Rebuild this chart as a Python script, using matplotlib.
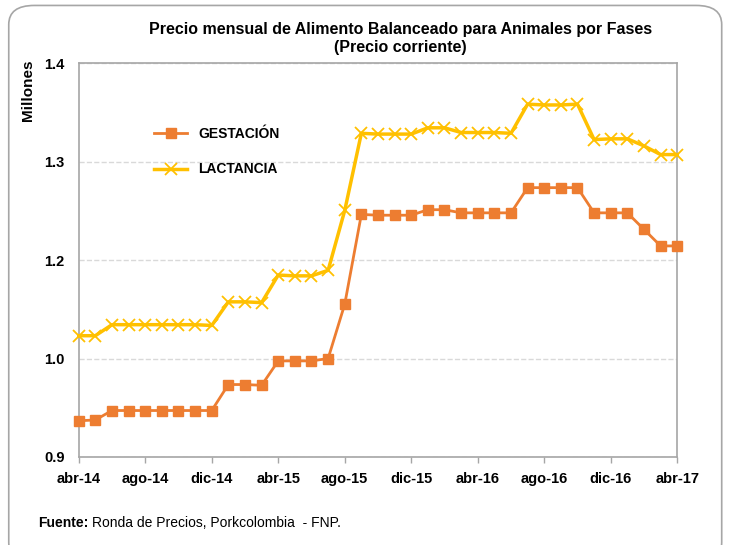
import matplotlib
matplotlib.use("Agg")
import matplotlib.pyplot as plt
from matplotlib.patches import FancyBboxPatch

plt.rcParams['font.family'] = ['Liberation Sans', 'DejaVu Sans']

# monthly prices, abr-14 .. abr-17 (millones de pesos)
gestacion = [0.946, 0.947, 0.959, 0.959, 0.959, 0.959, 0.959, 0.959, 0.959,
             0.992, 0.992, 0.991, 1.022, 1.022, 1.022, 1.025, 1.094,
             1.208, 1.207, 1.207, 1.207, 1.214, 1.214, 1.210, 1.210, 1.210, 1.210,
             1.242, 1.242, 1.242, 1.242, 1.210, 1.210, 1.210, 1.189, 1.168, 1.168]
lactancia = [1.054, 1.054, 1.068, 1.068, 1.068, 1.068, 1.068, 1.068, 1.067,
             1.097, 1.097, 1.096, 1.131, 1.130, 1.130, 1.137, 1.213,
             1.311, 1.310, 1.310, 1.310, 1.318, 1.318, 1.312, 1.312, 1.312, 1.311,
             1.348, 1.347, 1.347, 1.348, 1.303, 1.304, 1.304, 1.295, 1.284, 1.284]
tick_labels = ['abr-14', 'ago-14', 'dic-14', 'abr-15', 'ago-15',
               'dic-15', 'abr-16', 'ago-16', 'dic-16', 'abr-17']
y_ticks = [0.9, 1.025, 1.15, 1.275, 1.4]
y_labels = ['0.9', '1.0', '1.2', '1.3', '1.4']

months = list(range(len(gestacion)))

fig = plt.figure(figsize=(7.29, 5.45), dpi=100)
frame = FancyBboxPatch((0.012, -0.03), 0.978, 1.02, boxstyle="round,pad=0,rounding_size=0.035",
                       transform=fig.transFigure, fc='none', ec='#a6a6a6', lw=1.2, zorder=-1)
fig.patches.append(frame)
ax = fig.add_axes([0.108, 0.1615, 0.821, 0.7225])

ax.plot(months, gestacion, color='#ED7D31', lw=2, marker='s', ms=7, label='GESTACIÓN', clip_on=False, zorder=3)
ax.plot(months, lactancia, color='#FFC000', lw=2.5, marker='x', ms=8, mew=1.3, label='LACTANCIA', clip_on=False, zorder=3)

ax.set_xlim(0, 36)
ax.set_ylim(0.9, 1.4)
ax.set_xticks(range(0, 37, 4))
ax.set_xticklabels(tick_labels, fontweight='bold', fontsize=10.5)
ax.set_yticks(y_ticks)
ax.set_yticklabels(y_labels, fontweight='bold', fontsize=10.5)
ax.tick_params(axis='both', color='#a6a6a6', length=4, width=1)
ax.tick_params(axis='y', length=0, pad=10)
ax.tick_params(axis='x', pad=7)
for sp in ax.spines.values():
    sp.set_color('#a6a6a6')
    sp.set_linewidth(1.2)
ax.yaxis.grid(True, linestyle='--', color='#d9d9d9', lw=1)
ax.set_axisbelow(True)

ax.legend(loc='upper left', bbox_to_anchor=(0.105, 0.87), frameon=False, handlelength=2.4,
          labelspacing=1.55, prop={'weight': 'bold', 'size': 10})

fig.text(0.549, 0.945, 'Precio mensual de Alimento Balanceado para Animales por Fases',
         ha='center', va='center', fontsize=11.5, fontweight='bold')
fig.text(0.549, 0.912, '(Precio corriente)', ha='center', va='center', fontsize=11.5, fontweight='bold')
fig.text(0.038, 0.835, 'Millones', rotation=90, ha='center', va='center', fontsize=11, fontweight='bold')

fig.text(0.052, 0.04, 'Fuente:', ha='left', va='center', fontsize=10, fontweight='bold')
fig.text(0.126, 0.04, 'Ronda de Precios, Porkcolombia  - FNP.', ha='left', va='center', fontsize=10)

fig.savefig('out.png', dpi=100)
